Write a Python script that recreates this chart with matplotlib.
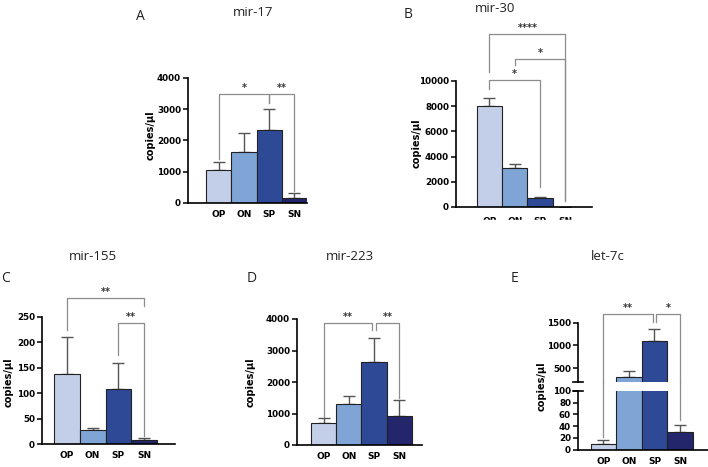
import numpy as np
import matplotlib
matplotlib.use("Agg")
import matplotlib.pyplot as plt
from matplotlib.patches import Rectangle

W, H = 708, 467

GROUPS = ["OP", "ON", "SP", "SN"]
COLORS = ["#c3cfe8", "#7ea5d6", "#2e4a97", "#23266a"]

# mean and error (upper SEM) per panel
mir17_mean = [1050, 1640, 2330, 170]
mir17_err = [250, 610, 670, 160]
mir30_mean = [8050, 3120, 700, 0]
mir30_err = [600, 260, 120, np.nan]
mir155_mean = [138, 28, 108, 8]
mir155_err = [72, 4, 52, 3]
mir223_mean = [700, 1290, 2650, 910]
mir223_err = [150, 250, 750, 520]
let7c_mean = [10, 300, 1090, 30]
let7c_err = [6, 130, 280, 12]

# brackets: (x1, x2, height, left leg end, right leg end, label)
mir17_sig = [(0, 2, 3490, 1400, 3200, "*"), (2, 3, 3490, 3200, 400, "**")]
mir30_sig = [(0, 3, 13730, 10700, 500, "****"), (1, 3, 11750, 11250, 500, "*"),
             (0, 2, 10080, 9350, 1600, "*")]
mir155_sig = [(0, 3, 287, 224, 272, "**"), (2, 3, 238, 175, 15, "**")]
mir223_sig = [(0, 1.93, 3870, 900, 3650, "**"), (2.07, 3, 3870, 3650, 1500, "**")]
let7c_sig = [(0, 1.93, 1690, 21, 1510, "**"), (2.07, 3, 1690, 1510, 50, "*")]

TICKFONT = dict(family="DejaVu Sans", weight="bold", size=6.3)
BR_COLOR = "#8c8c8c"


def add_ax(x0, x1, ytop, ybot):
    return fig.add_axes([x0 / W, 1 - ybot / H, (x1 - x0) / W, (ybot - ytop) / H])


def style(ax, xlim, ylim, yticks, show_x=True, xpad=5):
    ax.set_xlim(*xlim)
    ax.set_ylim(*ylim)
    ax.set_yticks(yticks)
    ax.set_yticklabels([str(t) for t in yticks], **TICKFONT)
    for s in ["top", "right"]:
        ax.spines[s].set_visible(False)
    for s in ["left", "bottom"]:
        ax.spines[s].set_linewidth(1.2)
    ax.tick_params(axis="y", length=3.5, width=1.1, pad=1.5)
    if show_x:
        ax.set_xticks(range(4))
        ax.set_xticklabels(GROUPS, family="DejaVu Sans", weight="bold", size=6.5)
        ax.tick_params(axis="x", length=0, pad=xpad)
    else:
        ax.set_xticks([])
        ax.spines["bottom"].set_visible(False)


def bars(ax, mean, err):
    x = np.arange(4)
    ax.bar(x, mean, width=1.0, color=COLORS, edgecolor="#222222", linewidth=0.8, zorder=2)
    ax.errorbar(x, mean, yerr=[np.zeros(4), err], fmt="none", ecolor="#555555",
                elinewidth=1.0, capsize=4, capthick=1.0, zorder=1)


def brackets(ax, sigs, fs=7):
    for x1, x2, y, l1, l2, lab in sigs:
        ax.plot([x1, x1, x2, x2], [l1, y, y, l2], color=BR_COLOR, lw=0.9,
                clip_on=False, zorder=3)
        ax.annotate(lab, ((x1 + x2) / 2, y), xytext=(0, 1), textcoords="offset points",
                    ha="center", va="bottom", fontsize=fs, fontweight="bold",
                    color="#333333", annotation_clip=False)


def heading(x, y, txt, size=9.5):
    fig.text(x / W, 1 - y / H, txt, ha="center", va="center", family="Open Sans",
             fontsize=size, color="#222222")


def ylab(x, y):
    fig.text(x / W, 1 - y / H, "copies/µl", ha="center", va="center", rotation=90,
             family="DejaVu Sans", weight="bold", fontsize=7)


fig = plt.figure(figsize=(W / 100, H / 100), dpi=100)

# A
axA = add_ax(188, 307, 78, 203)
bars(axA, mir17_mean, mir17_err)
style(axA, (-1.22, 3.5), (0, 4000), [0, 1000, 2000, 3000, 4000])
brackets(axA, mir17_sig)
heading(253, 12, "mir-17")
heading(140, 16, "A", 10)
ylab(151, 135)

# B
axB = add_ax(456, 592, 81, 207)
bars(axB, mir30_mean, mir30_err)
style(axB, (-1.32, 4.05), (0, 10000), [0, 2000, 4000, 6000, 8000, 10000], xpad=7)
brackets(axB, mir30_sig)
heading(495, 9, "mir-30")
heading(408, 15, "B", 10)
ylab(417, 143)

# C
axC = add_ax(42, 175, 317, 444)
bars(axC, mir155_mean, mir155_err)
style(axC, (-0.97, 4.2), (0, 250), [0, 50, 100, 150, 200, 250])
brackets(axC, mir155_sig)
heading(93, 256, "mir-155")
heading(6, 278, "C", 10)
ylab(9, 382)

# D
axD = add_ax(297, 422, 319, 445)
bars(axD, mir223_mean, mir223_err)
style(axD, (-1.05, 3.9), (0, 4000), [0, 1000, 2000, 3000, 4000])
brackets(axD, mir223_sig)
heading(350, 257, "mir-223")
heading(252, 278, "D", 10)
ylab(251, 382)

# E (broken axis)
axEt = add_ax(578, 708, 322.7, 381.7)
axEb = add_ax(578, 708, 390.7, 449.7)
bars(axEt, let7c_mean, let7c_err)
bars(axEb, let7c_mean, let7c_err)
style(axEt, (-1.0, 4.1), (200, 1500), [500, 1000, 1500], show_x=False)
style(axEb, (-1.0, 4.1), (0, 100), [0, 20, 40, 60, 80, 100])
for ax, yy in [(axEt, 0), (axEb, 1)]:
    ax.plot([-0.035, 0.035], [yy, yy], transform=ax.transAxes, color="black",
            lw=1.2, clip_on=False)
brackets(axEt, [(a, b, y, max(l1, 200), max(l2, 200), lab) for a, b, y, l1, l2, lab in let7c_sig])
# legs that fall below the break continue in the lower axis
p = axEt.transData.transform((0, 200))
y_join = axEb.transData.inverted().transform(p)[1]
for x1, x2, y, l1, l2, lab in let7c_sig:
    for xx, ll in [(x1, l1), (x2, l2)]:
        if ll < 200:
            axEb.plot([xx, xx], [ll, y_join], color=BR_COLOR, lw=0.9, clip_on=False, zorder=3)
heading(608, 257, "let-7c")
heading(515, 278, "E", 10)
ylab(542, 386)

# lower row panel boxes cut the bottom of panel B's labels
fig.patches.append(Rectangle((440 / W, 1 - 240 / H), 180 / W, 20 / H,
                             transform=fig.transFigure, color="white", zorder=10))

fig.savefig("out.png", dpi=100)
